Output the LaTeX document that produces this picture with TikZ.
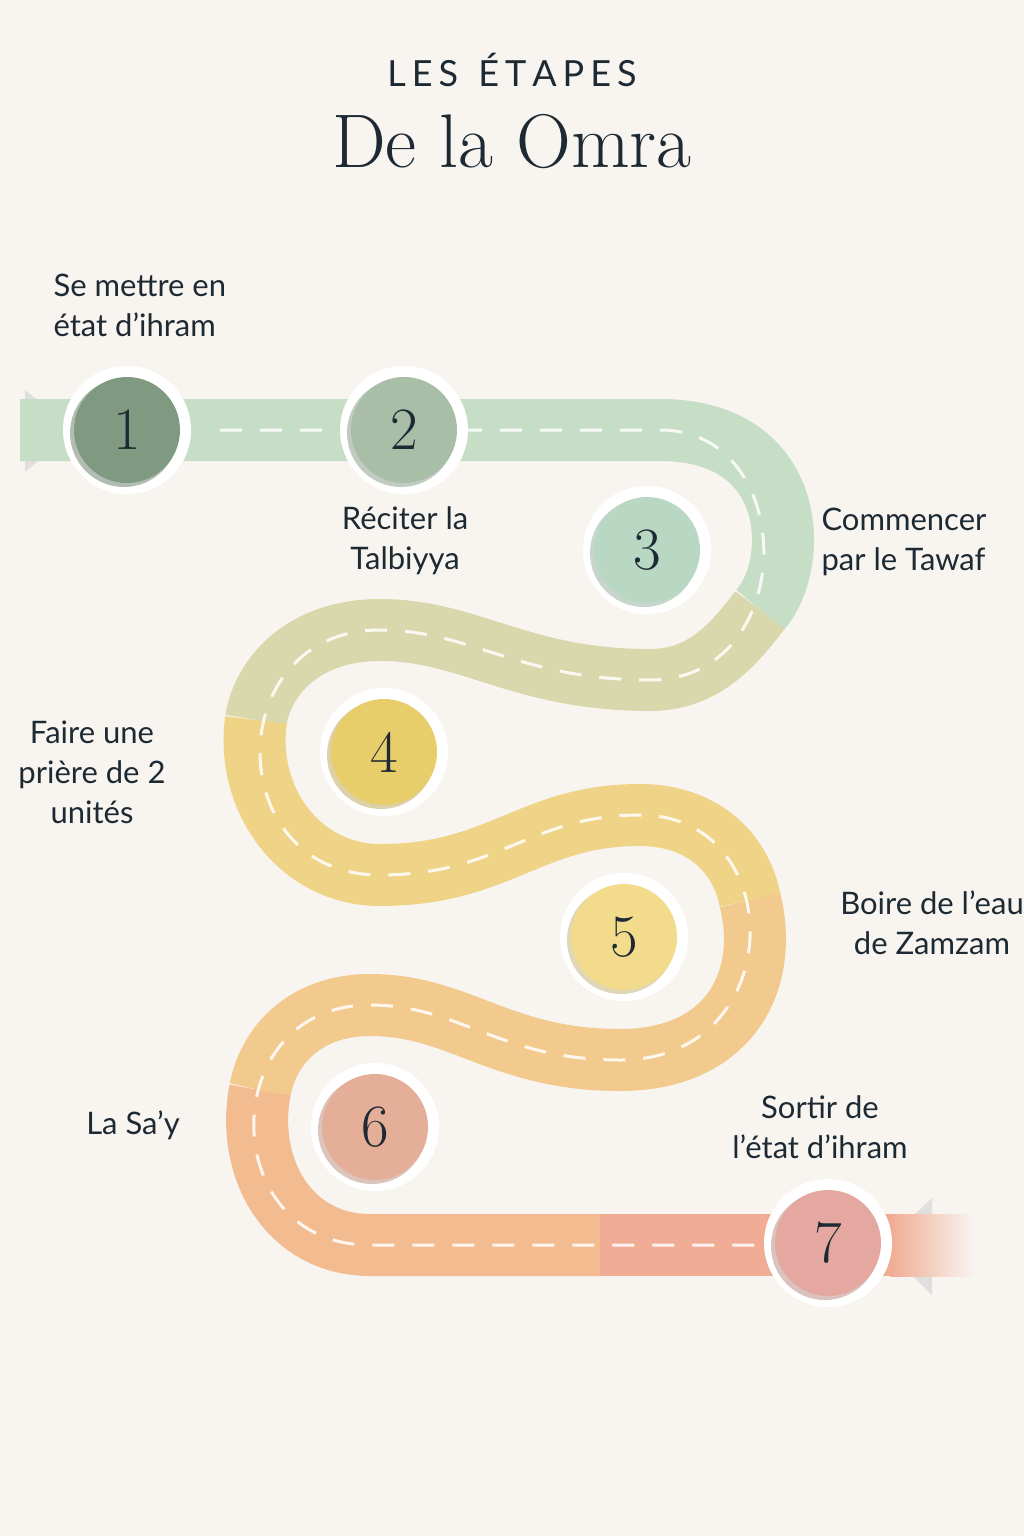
\documentclass[tikz,border=0pt]{standalone}
\usepackage{fontspec}
\setmainfont{Lato}
\newfontfamily\serifnum{Latin Modern Roman}
\definecolor{bg}{HTML}{F8F5F1}
\definecolor{ink}{HTML}{1E2A33}
\definecolor{rA}{HTML}{C6DDC6}
\definecolor{rB}{HTML}{D9D8AC}
\definecolor{rC}{HTML}{EFD488}
\definecolor{rD}{HTML}{F2CA8E}
\definecolor{rE}{HTML}{F2BC90}
\definecolor{rF}{HTML}{F0AC94}
\definecolor{cA}{HTML}{7F9A80}
\definecolor{cB}{HTML}{A8BEA6}
\definecolor{cC}{HTML}{B8D8C4}
\definecolor{cD}{HTML}{E8CE6A}
\definecolor{cE}{HTML}{F2DC8C}
\definecolor{cF}{HTML}{E4AE98}
\definecolor{cG}{HTML}{E4A8A0}
\tikzset{
 road/.style={line width=62pt},
 lane/.style={white,line width=3pt,dash pattern=on 22pt off 18pt,opacity=.85},
 lbl/.style={text=ink,font=\fontsize{31}{40}\selectfont,align=center},
 lbll/.style={lbl,align=left,anchor=west},
 ring/.style={circle,fill=white,minimum size=128pt,inner sep=0pt},
}
\newcommand{\stepcirc}[4]{%
 \node[ring] (r#1) at (#2) {};
 \fill[#3!80!black,opacity=.5] ([xshift=-3pt,yshift=-3pt]#2) circle (54pt);
 \node[circle,fill=#3,minimum size=106pt,inner sep=0pt,text=ink,font=\serifnum\fontsize{60}{60}\selectfont] (s#1) at (#2) {#4};}
\begin{document}
\begin{tikzpicture}[x=1pt,y=-1pt]
\fill[bg] (0,0) rectangle (1024,1536);
\clip (0,0) rectangle (1024,1536);
\node[text=ink,font=\fontsize{36}{40}\selectfont] (t1) at (512,70) {L\,E\,S\;\;É\,T\,A\,P\,E\,S};
\node[text=ink,font=\serifnum\fontsize{76}{80}\selectfont] (t2) at (512,142) {De la Omra};
% end caps
\fill[gray!25] (25,390) -- (75,430) -- (25,472) -- cycle;
\fill[gray!25] (932,1198) -- (882,1245) -- (932,1295) -- cycle;
% road
\draw[road,rA] (20,430) -- (660,430) .. controls (800,430) and (800,565) .. (760,610);
\draw[road,rB] (760,610) .. controls (730,650) and (700,680) .. (650,680) .. controls (520,680) and (470,630) .. (380,630) .. controls (300,630) and (262,680) .. (256,720);
\draw[road,rC] (256,720) .. controls (245,800) and (300,875) .. (380,875) .. controls (500,875) and (530,815) .. (640,815) .. controls (700,815) and (740,850) .. (750,900);
\draw[road,rD] (750,900) .. controls (770,980) and (730,1060) .. (620,1060) .. controls (500,1060) and (460,1005) .. (370,1005) .. controls (310,1005) and (270,1040) .. (260,1090);
\draw[road,rE] (260,1090) .. controls (245,1170) and (290,1245) .. (370,1245) -- (600,1245);
\draw[road,rF] (600,1245) -- (890,1245);
\shade[left color=rF,right color=bg] (890,1214) rectangle (975,1276);
% lane markings
\draw[lane] (220,430) -- (660,430) .. controls (800,430) and (800,680) .. (650,680) .. controls (520,680) and (470,630) .. (380,630) .. controls (220,630) and (220,875) .. (380,875) .. controls (500,875) and (530,815) .. (640,815) .. controls (790,815) and (790,1060) .. (620,1060) .. controls (500,1060) and (460,1005) .. (370,1005) .. controls (215,1005) and (215,1245) .. (370,1245) -- (760,1245);
% steps
\stepcirc{1}{127,430}{cA}{1}
\stepcirc{2}{404,430}{cB}{2}
\stepcirc{3}{647,550}{cC}{3}
\stepcirc{4}{384,752}{cD}{4}
\stepcirc{5}{624,937}{cE}{5}
\stepcirc{6}{375,1127}{cF}{6}
\stepcirc{7}{828,1243}{cG}{7}
% labels
\node[lbll] (l1) at (50,305) {Se mettre en\\état d’ihram};
\node[lbl] (l2) at (405,541) {Réciter la\\Talbiyya};
\node[lbll] (l3) at (818,542) {Commencer\\par le Tawaf};
\node[lbl] (l4) at (92,772) {Faire une\\prière de 2\\unités};
\node[lbl] (l5) at (932,923) {Boire de l’eau\\de Zamzam};
\node[lbl] (l6) at (133,1125) {La Sa’y};
\node[lbl] (l7) at (820,1127) {Sortir de\\l’état d’ihram};
\end{tikzpicture}
\end{document}
